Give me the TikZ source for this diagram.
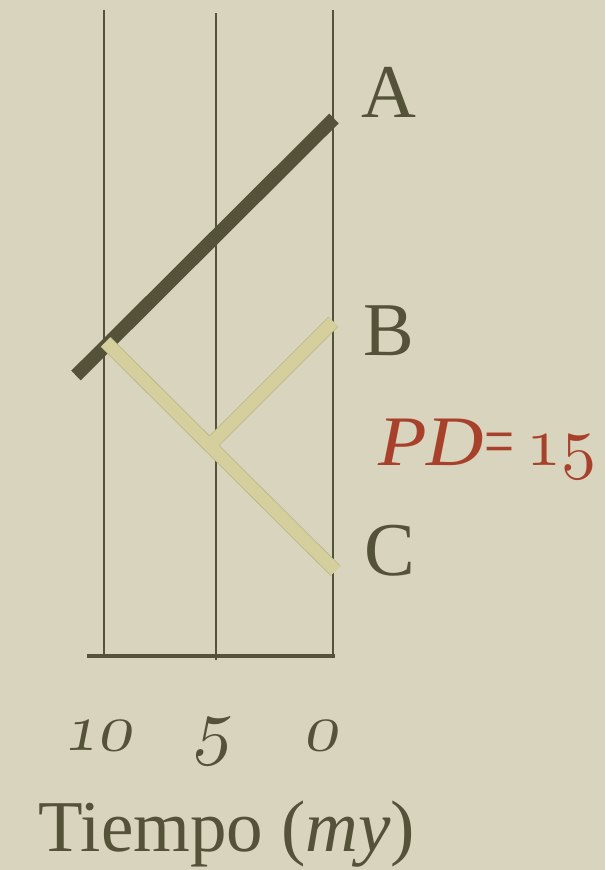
\documentclass[tikz,border=0pt]{standalone}
\usepackage{graphicx}
\usepackage{fontspec}
\setmainfont{Liberation Serif}
\definecolor{bg}{HTML}{D9D4BE}
\definecolor{ink}{HTML}{55523A}
\definecolor{tanfill}{HTML}{D4CF9C}
\definecolor{tanedge}{HTML}{B9B385}
\definecolor{rust}{HTML}{A8412B}
\newcommand{\osfig}[2]{\scalebox{#1}{\fontsize{10}{12}\usefont{OML}{lmm}{m}{it}#2}}
\tikzset{
  grid line/.style={draw=ink, line width=2},
  axis line/.style={draw=ink, line width=4},
  dark branch/.style={draw=ink, line width=13.5},
  tan edge/.style={draw=tanedge, line width=14},
  tan body/.style={draw=tanfill, line width=12.5},
  tip label/.style={text=ink, inner sep=0pt, anchor=base, font=\fontsize{76}{80}\selectfont},
  tick label/.style={text=ink, inner sep=0pt, anchor=base, xslant=0.2},
  title label/.style={text=ink, inner sep=0pt, anchor=base, font=\fontsize{73}{78}\selectfont},
  pd label/.style={text=rust, inner sep=0pt, anchor=base west, font=\fontsize{71}{75}\selectfont},
}
\begin{document}
\begin{tikzpicture}[x=1pt,y=-1pt]
\useasboundingbox (0,0) rectangle (605,870);
\fill[bg] (0,0) rectangle (605,870);
% time grid
\coordinate (t10top) at (104,10);  \coordinate (t10bot) at (104,656);
\coordinate (t5top)  at (216,13);  \coordinate (t5bot)  at (216,660);
\coordinate (t0top)  at (333,10);  \coordinate (t0bot)  at (333,656);
\coordinate (axL) at (87,656);     \coordinate (axR) at (335,656);
\draw[grid line] (t10top) -- (t10bot);
\draw[grid line] (t5top) -- (t5bot);
\draw[grid line] (t0top) -- (t0bot);
\draw[axis line] (axL) -- (axR);
% tree
\coordinate (rootA) at (76,375.5);
\coordinate (tipA) at (334,118.5);
\coordinate (rootBC) at (105.7,342);
\coordinate (tipC) at (335.5,570.8);
\coordinate (split) at (209.4,445.6);
\coordinate (tipB) at (333.3,321.7);
\draw[dark branch] (rootA) -- (tipA);
\draw[tan edge] (rootBC) -- (tipC);
\draw[tan edge] (split) -- (tipB);
\draw[tan body] (rootBC) -- (tipC);
\draw[tan body] (split) -- (tipB);
% labels
\node[tip label] (A) at (389,117) {A};
\node[tip label] (B) at (389,355) {B};
\node[tip label] (C) at (390,575) {C};
\node[pd label] (PD) at (378,465) {\scalebox{1.12}[1]{\textit{PD}}\scalebox{0.75}[1]{=}\,\osfig{7}{15}};
\node[tick label] (x10) at (97,750) {\osfig{6.8}{10}};
\node[tick label] (x5) at (212,750) {\osfig{7.5}{5}};
\node[tick label] (x0) at (320,750) {\osfig{6.8}{0}};
\node[title label] (T) at (227,851) {Tiempo (\textit{my})};
\end{tikzpicture}
\end{document}
